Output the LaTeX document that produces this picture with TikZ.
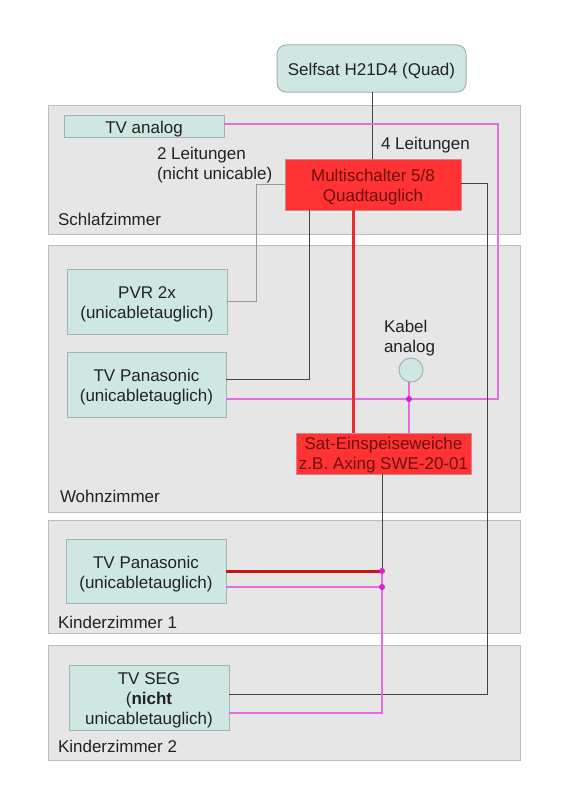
\documentclass[tikz,border=0pt]{standalone}
\usepackage{fontspec}
\setmainfont{Liberation Sans}
\definecolor{roomfill}{HTML}{E6E6E6}
\definecolor{roomline}{HTML}{BDBDBD}
\definecolor{tealfill}{HTML}{CFE7E3}
\definecolor{tealline}{HTML}{A3B3B0}
\definecolor{redfill}{HTML}{FF3333}
\definecolor{redtext}{HTML}{6E0F0F}
\definecolor{darktext}{HTML}{222222}
\definecolor{pinkline}{HTML}{E070E0}
\definecolor{dotpink}{HTML}{D61FD6}
\definecolor{blackline}{HTML}{444444}
\definecolor{greyline}{HTML}{999999}
\definecolor{redline}{HTML}{EE2A2A}
\definecolor{deepred}{HTML}{CC1111}
\newcommand{\tup}{\rule{0pt}{18pt}}
\newcommand{\tupsmall}{\rule{0pt}{16.5pt}}
\tikzset{
  x=1pt,y=-1pt,
  every node/.style={font=\fontsize{17}{20}\selectfont,text=darktext,inner sep=0pt,outer sep=0pt},
  room/.style={draw=roomline,fill=roomfill,line width=1pt},
  dev/.style={draw=tealline,fill=tealfill,line width=1pt,align=center},
  redbox/.style={draw=roomline!60!redfill,fill=redfill,line width=1pt,align=center,text=redtext},
  pinkw/.style={draw=pinkline,line width=1.2pt},
  blackw/.style={draw=blackline,line width=1pt},
  greyw/.style={draw=greyline,line width=1pt},
  redw/.style={draw=redline,line width=3pt},
  deepw/.style={draw=deepred,line width=3pt},
  jdot/.style={circle,fill=dotpink,minimum size=6pt},
  lbl/.style={anchor=west,align=left}
}
\newcommand{\boxat}[6]{\node[#1,minimum width=#4-#2,minimum height=#5-#3] (#6) at ({(#2+#4)/2},{(#3+#5)/2})}
\begin{document}
\begin{tikzpicture}
\useasboundingbox (0,0) rectangle (565,800);
\fill[white] (0,0) rectangle (565,800);
% rooms
\boxat{room}{48}{105}{520}{234}{schlaf} {};
\boxat{room}{48}{245}{520}{512}{wohn} {};
\boxat{room}{48}{520}{520}{633}{kind1} {};
\boxat{room}{48}{645}{520}{760}{kind2} {};
\node[lbl] (lschlaf) at (58,219) {Schlafzimmer};
\node[lbl] (lwohn) at (60,496) {Wohnzimmer};
\node[lbl] (lk1) at (58,622) {Kinderzimmer 1};
\node[lbl] (lk2) at (58,746) {Kinderzimmer 2};
% devices
\boxat{dev,rounded corners=9pt}{277}{45}{466}{92}{sat} {\tup Selfsat H21D4 (Quad)};
\boxat{dev}{64}{115}{224}{137}{tva} {\tup TV analog};
\boxat{redbox}{285}{159}{461}{210}{ms} {\tup Multischalter 5/8\\Quadtauglich};
\boxat{dev}{67}{269}{227}{334}{pvr} {\tup PVR 2x\\(unicabletauglich)};
\boxat{dev}{67}{352}{226}{417}{tvp} {\tup TV Panasonic\\(unicabletauglich)};
\boxat{redbox}{296}{433}{471}{474}{swe} {\tupsmall Sat-Einspeiseweiche\\z.B. Axing SWE-20-01};
\boxat{dev}{66}{539}{226}{603}{tvk} {\tup TV Panasonic\\(unicabletauglich)};
\boxat{dev}{69}{665}{229}{730}{seg} {\tup TV SEG\\(\textbf{nicht}\\unicabletauglich)};
\node[dev,circle,minimum size=24pt] (kab) at (411,370) {};
\node[lbl] (lkab) at (384,338) {Kabel\\analog};
\node[lbl] (l2) at (157,165) {2 Leitungen\\(nicht unicable)};
\node[lbl] (l4) at (381,145) {4 Leitungen};
% junctions
\coordinate (jw) at (409,399);
\coordinate (j1) at (382,571);
\coordinate (j2) at (382,587);
% wires
\draw[blackw] (sat.south -| 372,0) -- (ms.north -| 372,0);
\draw[pinkw] (tva.east |- 0,124) -| (498,399) -- (tvp.east |- 0,399);
\draw[pinkw] (kab.south -| jw) -- (swe.north -| jw);
\draw[greyw] (ms.west |- 0,184) -| (256,301) -- (pvr.east |- 0,301);
\draw[blackw] (ms.south -| 309,0) |- (tvp.east |- 0,379);
\draw[redw] (ms.south -| 353,0) -- (swe.north -| 353,0);
\draw[blackw] (ms.east |- 0,183) -| (487,694) -- (seg.east |- 0,694);
\draw[blackw] (swe.south -| j1) -- (j1);
\draw[deepw] (tvk.east |- j1) -- (j1);
\draw[pinkw] (tvk.east |- j2) -- (j2);
\draw[pinkw] (j1) -- (382,713) -- (seg.east |- 0,713);
\node[jdot] (dw) at (jw) {};
\node[jdot] (d1) at (j1) {};
\node[jdot] (d2) at (j2) {};
\end{tikzpicture}
\end{document}
